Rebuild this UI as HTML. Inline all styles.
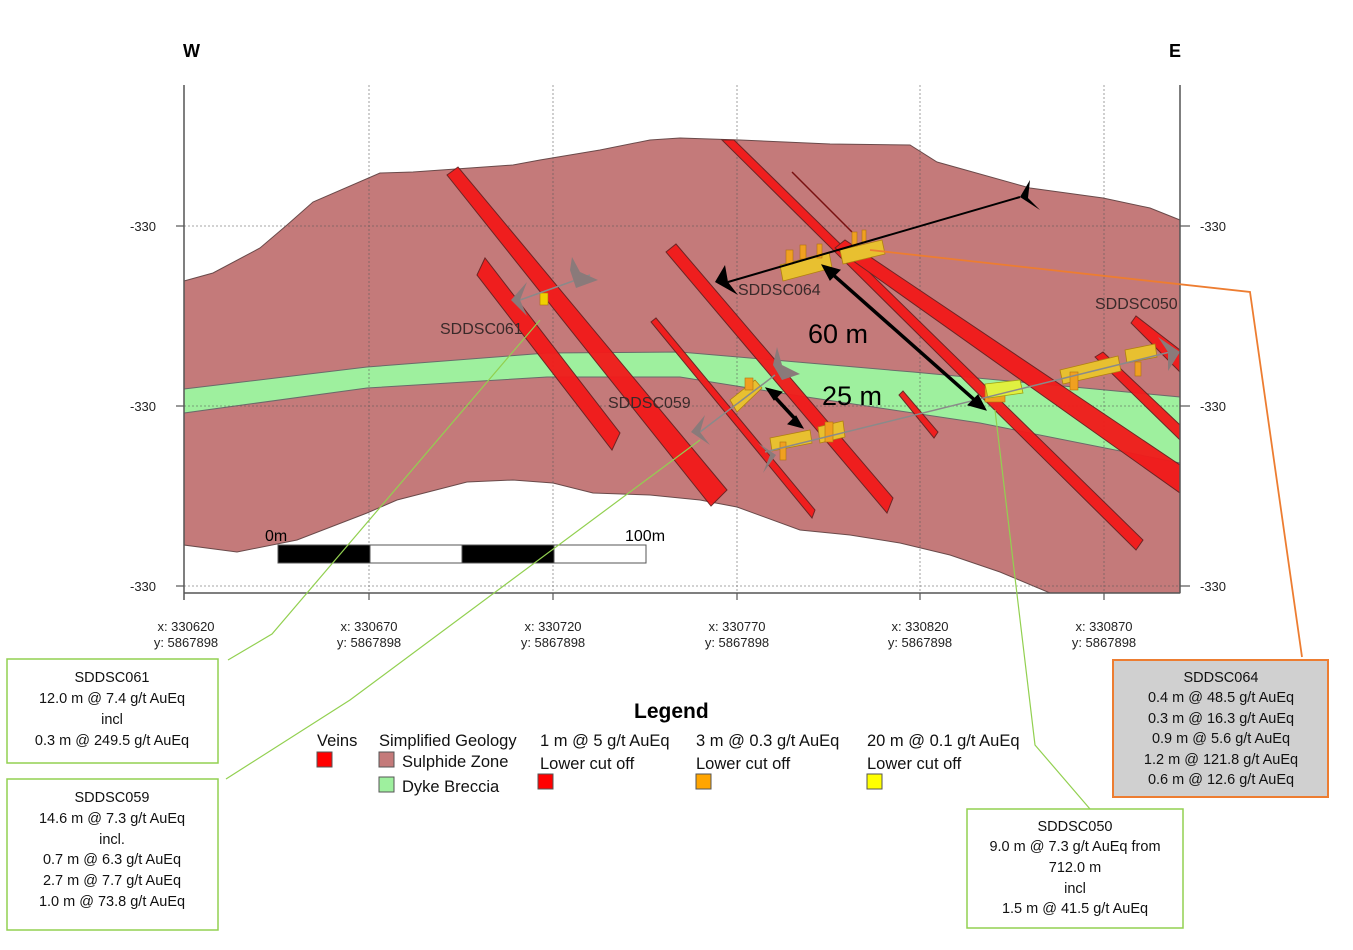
<!DOCTYPE html>
<html><head><meta charset="utf-8"><style>
html,body{margin:0;padding:0;background:#fff;}
svg{display:block;font-family:"Liberation Sans",sans-serif;}
</style></head><body>
<svg width="1353" height="950" viewBox="0 0 1353 950" xmlns="http://www.w3.org/2000/svg">
<polygon fill="#c47a7a" stroke="#6a4a4a" stroke-width="1" points="184,281 213,273 260,248 287,225 313,202 380,173 413,172 513,165 540,160 600,150 650,140 680,138 740,140 830,144 910,145 937,162 1030,188 1103,198 1150,208 1180,220 1180,593 1050,593 1000,572 950,555 900,543 850,535 800,530 737,507 700,500 650,495 593,493 553,483 513,480 467,482 397,500 367,513 297,540 237,552 184,545"/>
<polygon fill="#9ef09e" stroke="#6a6a6a" stroke-width="1" points="184,389 367,367 547,353 680,352 913,372 1180,397 1180,463 980,423 780,393 680,377 547,377 367,388 184,413"/>
<g stroke="#555" stroke-width="0.8" stroke-dasharray="2,2" opacity="0.7">
<line x1="369" y1="85" x2="369" y2="593"/><line x1="553" y1="85" x2="553" y2="593"/><line x1="737" y1="85" x2="737" y2="593"/><line x1="920" y1="85" x2="920" y2="593"/><line x1="1104" y1="85" x2="1104" y2="593"/>
<line x1="184" y1="226" x2="1180" y2="226"/><line x1="184" y1="406" x2="1180" y2="406"/><line x1="184" y1="586" x2="1180" y2="586"/>
</g>
<g fill="#f21a1a" stroke="#6a2020" stroke-width="1" opacity="0.95">
<polygon points="447,175 458,167 727,490 711,506"/>
<polygon points="477,275 485,258 620,433 612,450"/>
<polygon points="651,322 656,318 815,510 812,518"/>
<polygon points="666,252 676,244 893,498 887,513"/>
<polygon points="722,140 734,140 1143,540 1136,550"/>
<polygon points="835,248 845,240 1180,465 1180,493"/>
<polygon points="1095,357 1103,352 1180,425 1180,440"/>
<polygon points="1131,323 1136,316 1180,350 1180,372"/>
<polygon points="899,395 903,391 938,432 934,438"/>
</g>
<line x1="792" y1="172" x2="852" y2="232" stroke="#7a1010" stroke-width="1.5"/>
<g fill="#e8c030" stroke="#b08010" stroke-width="0.8">
<polygon points="780,265 829,252 832,268 783,281"/>
<polygon points="840,250 882,240 885,254 843,264"/>
<polygon points="770,438 810,430 812,443 772,451"/>
<polygon points="818,427 843,421 845,437 820,443"/>
<polygon points="1060,370 1118,356 1121,371 1063,384"/>
<polygon points="1125,350 1155,344 1157,357 1127,363"/>
<polygon points="730,400 755,380 762,388 737,412"/>
</g>
<g fill="#f0a020" stroke="#b07010" stroke-width="0.6">
<rect x="786" y="250" width="7" height="14"/><rect x="800" y="245" width="6" height="14"/><rect x="817" y="244" width="5" height="14"/><rect x="852" y="232" width="5" height="14"/><rect x="862" y="230" width="4" height="12"/>
<rect x="985" y="388" width="20" height="14"/><rect x="825" y="422" width="8" height="20"/><rect x="780" y="442" width="6" height="18"/><rect x="1070" y="372" width="8" height="18"/><rect x="1135" y="362" width="6" height="14"/><rect x="745" y="378" width="8" height="12"/>
</g>
<polygon points="985,384 1020,380 1023,393 988,398" fill="#e0f040" stroke="#a0a010" stroke-width="0.8"/>
<rect x="540" y="293" width="8" height="12" fill="#f0d000" stroke="#b07010" stroke-width="0.6"/>
<g stroke="#8a8a8a" stroke-width="1.5" fill="none">
<line x1="520" y1="300" x2="590" y2="275"/>
<line x1="700" y1="432" x2="775" y2="375"/>
<line x1="765" y1="452" x2="1170" y2="352"/>
</g>
<g fill="#8a7a7a">
<polygon points="572,257 580,272 598,280 576,288 570,270"/>
<polygon points="527,282 511,300 527,316 520,300"/>
<polygon points="777,347 782,365 800,374 782,380 773,365"/>
<polygon points="705,415 691,432 710,445 700,432"/>
<polygon points="758,443 776,455 763,473 770,455"/>
<polygon points="1158,337 1180,352 1168,371 1168,352"/>
</g>
<line x1="1020" y1="197" x2="728" y2="282" stroke="#000" stroke-width="2"/>
<polygon points="1030,180 1020,197 1040,210 1028,198" fill="#000"/>
<polygon points="725,265 715,282 738,295 728,282" fill="#000"/>
<g stroke="#000" stroke-width="3.5" fill="#000">
<line x1="830" y1="272" x2="978" y2="403"/>
<polygon points="822,265 840,270 830,280" stroke-width="1"/>
<polygon points="986,410 968,405 978,395" stroke-width="1"/>
<line x1="772" y1="394" x2="797" y2="421"/>
<polygon points="766,388 782,392 774,400" stroke-width="1"/>
<polygon points="803,428 788,424 796,416" stroke-width="1"/>
</g>
<text x="808" y="343" font-size="27" fill="#000">60 m</text>
<text x="822" y="405" font-size="27" fill="#000">25 m</text>
<g font-size="16" fill="#3a2a2a">
<text x="440" y="334">SDDSC061</text><text x="608" y="408">SDDSC059</text><text x="738" y="295">SDDSC064</text><text x="1095" y="309">SDDSC050</text>
</g>
<line x1="184" y1="85" x2="184" y2="600" stroke="#555" stroke-width="1.5"/>
<line x1="1180" y1="85" x2="1180" y2="593" stroke="#555" stroke-width="1.5"/>
<line x1="184" y1="593" x2="1180" y2="593" stroke="#555" stroke-width="1.5"/>
<g stroke="#555" stroke-width="1.2">
<line x1="176" y1="226" x2="184" y2="226"/><line x1="176" y1="406" x2="184" y2="406"/><line x1="176" y1="586" x2="184" y2="586"/>
<line x1="1180" y1="226" x2="1190" y2="226"/><line x1="1180" y1="406" x2="1190" y2="406"/><line x1="1180" y1="586" x2="1190" y2="586"/>
<line x1="369" y1="593" x2="369" y2="600"/><line x1="553" y1="593" x2="553" y2="600"/><line x1="737" y1="593" x2="737" y2="600"/><line x1="920" y1="593" x2="920" y2="600"/><line x1="1104" y1="593" x2="1104" y2="600"/>
</g>
<g font-size="13" fill="#222">
<text x="130" y="231">-330</text><text x="130" y="411">-330</text><text x="130" y="591">-330</text>
<text x="1200" y="231">-330</text><text x="1200" y="411">-330</text><text x="1200" y="591">-330</text>
</g>
<text x="183" y="57" font-size="18" font-weight="bold">W</text>
<text x="1169" y="57" font-size="18" font-weight="bold">E</text>
<g font-size="13" fill="#222" text-anchor="middle">
<text x="186" y="631">x: 330620</text><text x="186" y="647">y: 5867898</text>
<text x="369" y="631">x: 330670</text><text x="369" y="647">y: 5867898</text>
<text x="553" y="631">x: 330720</text><text x="553" y="647">y: 5867898</text>
<text x="737" y="631">x: 330770</text><text x="737" y="647">y: 5867898</text>
<text x="920" y="631">x: 330820</text><text x="920" y="647">y: 5867898</text>
<text x="1104" y="631">x: 330870</text><text x="1104" y="647">y: 5867898</text>
</g>
<g stroke="#555" stroke-width="1">
<rect x="278" y="545" width="92" height="18" fill="#000"/><rect x="370" y="545" width="92" height="18" fill="#fff"/><rect x="462" y="545" width="92" height="18" fill="#000"/><rect x="554" y="545" width="92" height="18" fill="#fff"/>
</g>
<text x="265" y="541" font-size="16">0m</text><text x="625" y="541" font-size="16">100m</text>
<g stroke="#92d050" stroke-width="1.2" fill="none">
<polyline points="228,660 272,634 540,320"/>
<polyline points="226,779 350,700 700,440"/>
<polyline points="1090,809 1035,745 995,410"/>
</g>
<polyline points="1302,657 1250,292 870,250" stroke="#ed7d31" stroke-width="1.8" fill="none"/>
<text x="634" y="718" font-size="21" font-weight="bold">Legend</text>
<g font-size="16.5" fill="#111">
<text x="317" y="746">Veins</text><text x="379" y="746">Simplified Geology</text><text x="540" y="746">1 m @ 5 g/t AuEq</text><text x="696" y="746">3 m @ 0.3 g/t AuEq</text><text x="867" y="746">20 m @ 0.1 g/t AuEq</text>
<text x="402" y="767">Sulphide Zone</text><text x="540" y="769">Lower cut off</text><text x="696" y="769">Lower cut off</text><text x="867" y="769">Lower cut off</text>
<text x="402" y="792">Dyke Breccia</text>
</g>
<g stroke="#555" stroke-width="1">
<rect x="317" y="752" width="15" height="15" fill="#f00"/>
<rect x="379" y="752" width="15" height="15" fill="#c47a7a"/>
<rect x="379" y="777" width="15" height="15" fill="#9ef09e"/>
<rect x="538" y="774" width="15" height="15" fill="#f00"/>
<rect x="696" y="774" width="15" height="15" fill="#ffa500"/>
<rect x="867" y="774" width="15" height="15" fill="#ffff00"/>
</g>
<rect x="7" y="659" width="211" height="104" fill="#fff" stroke="#92d050" stroke-width="1.5"/>
<g font-size="14.5" text-anchor="middle" fill="#111">
<text x="112" y="682">SDDSC061</text><text x="112" y="703">12.0 m @ 7.4 g/t AuEq</text><text x="112" y="724">incl</text><text x="112" y="745">0.3 m @ 249.5 g/t AuEq</text>
</g>
<rect x="7" y="779" width="211" height="151" fill="#fff" stroke="#92d050" stroke-width="1.5"/>
<g font-size="14.5" text-anchor="middle" fill="#111">
<text x="112" y="802">SDDSC059</text><text x="112" y="823">14.6 m @ 7.3 g/t AuEq</text><text x="112" y="844">incl.</text><text x="112" y="864">0.7 m @ 6.3 g/t AuEq</text><text x="112" y="885">2.7 m @ 7.7 g/t AuEq</text><text x="112" y="906">1.0 m @ 73.8 g/t AuEq</text>
</g>
<rect x="967" y="809" width="216" height="119" fill="#fff" stroke="#92d050" stroke-width="1.5"/>
<g font-size="14.5" text-anchor="middle" fill="#111">
<text x="1075" y="831">SDDSC050</text><text x="1075" y="851">9.0 m @ 7.3 g/t AuEq from</text><text x="1075" y="872">712.0 m</text><text x="1075" y="893">incl</text><text x="1075" y="913">1.5 m @ 41.5 g/t AuEq</text>
</g>
<rect x="1113" y="660" width="215" height="137" fill="#d0d0d0" stroke="#ed7d31" stroke-width="2"/>
<g font-size="14.5" text-anchor="middle" fill="#111">
<text x="1221" y="682">SDDSC064</text><text x="1221" y="702">0.4 m @ 48.5 g/t AuEq</text><text x="1221" y="723">0.3 m @ 16.3 g/t AuEq</text><text x="1221" y="743">0.9 m @ 5.6 g/t AuEq</text><text x="1221" y="764">1.2 m @ 121.8 g/t AuEq</text><text x="1221" y="784">0.6 m @ 12.6 g/t AuEq</text>
</g>
</svg>
</body></html>
